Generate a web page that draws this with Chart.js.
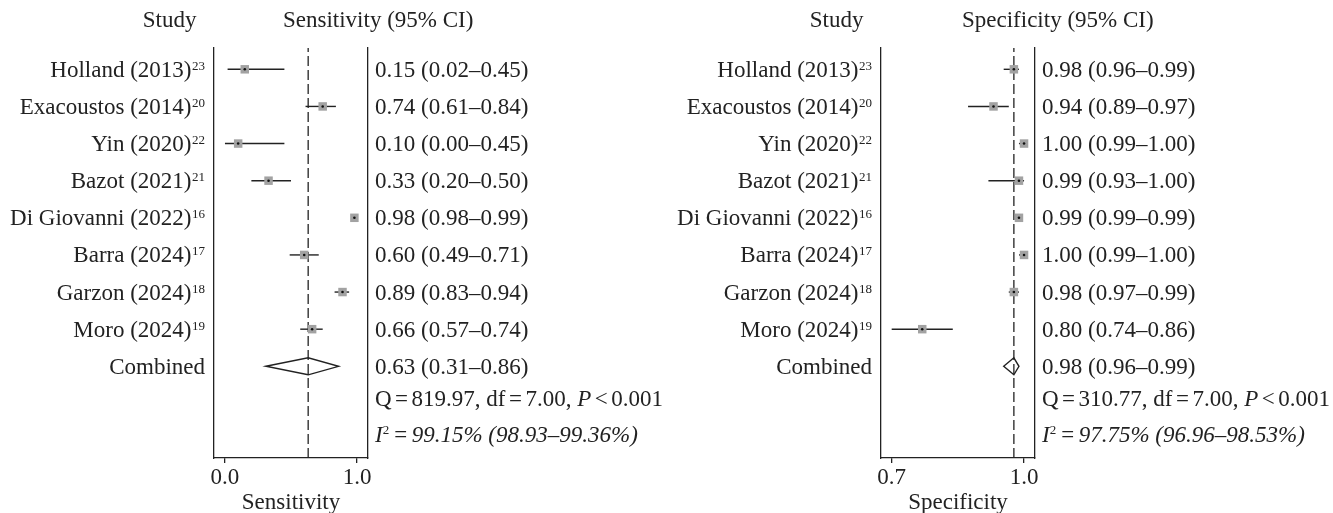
<!DOCTYPE html>
<html>
<head>
<meta charset="utf-8">
<script src="https://cdn.jsdelivr.net/npm/chart.js@4.4.1/dist/chart.umd.min.js"></script>
<style>
  html, body { margin: 0; padding: 0; background: #fff; }
  #wrap { position: relative; width: 1333px; height: 513px; }
  canvas { position: absolute; top: 0; }
  #sensChart { left: 0; }
  #specChart { left: 667px; }
</style>
</head>
<body>
<div id="wrap">
  <canvas id="sensChart" width="666" height="513"></canvas>
  <canvas id="specChart" width="666" height="513"></canvas>
</div>
<script>
const studies = ["Holland (2013)", "Exacoustos (2014)", "Yin (2020)", "Bazot (2021)",
  "Di Giovanni (2022)", "Barra (2024)", "Garzon (2024)", "Moro (2024)"];
const refs = ["23", "20", "22", "21", "16", "17", "18", "19"];

const sensEst  = [0.15, 0.74, 0.10, 0.33, 0.98, 0.60, 0.89, 0.66];
const sensLow  = [0.02, 0.61, 0.00, 0.20, 0.98, 0.49, 0.83, 0.57];
const sensHigh = [0.45, 0.84, 0.45, 0.50, 0.99, 0.71, 0.94, 0.74];
const sensCombined = [0.63, 0.31, 0.86]; // estimate, low, high
const sensHet = ["819.97", "7.00", "0.001"]; // Q, df, P
const sensI2 = ["99.15", "98.93", "99.36"];
const sensTicks = [0, 1];
const sensTickLabels = ["0.0", "1.0"];

const specEst  = [0.98, 0.94, 1.00, 0.99, 0.99, 1.00, 0.98, 0.80];
const specLow  = [0.96, 0.89, 0.99, 0.93, 0.99, 0.99, 0.97, 0.74];
const specHigh = [0.99, 0.97, 1.00, 1.00, 0.99, 1.00, 0.99, 0.86];
const specCombined = [0.98, 0.96, 0.99];
const specHet = ["310.77", "7.00", "0.001"];
const specI2 = ["97.75", "96.96", "98.53"];
const specTicks = [0.74, 1.0];
const specTickLabels = ["0.7", "1.0"];

// layout / style
const FONT = "Liberation Serif";
const INK = "#222";
const Y_MIN = -0.574, Y_MAX = 10.47;
const ROW_Q = 8.86, ROW_I2 = 9.85;
const GAP = 3.5;

Chart.defaults.font.family = FONT;
Chart.defaults.font.size = 23;
Chart.defaults.color = INK;

const fmt = v => v.toFixed(2);

// draws a row of text pieces left to right; {gap} adds a fixed space
function drawRuns(ctx, x, y, runs) {
  ctx.textAlign = "left";
  for (const r of runs) {
    if (r.gap) { x += r.gap; continue; }
    ctx.font = (r.italic ? "italic " : "") + (r.size || 23) + "px " + FONT;
    ctx.fillText(r.text, x, y - (r.rise || 0));
    x += ctx.measureText(r.text).width;
  }
}

function forestText(p) {
  return {
    id: "forestText",
    afterDatasetsDraw(chart) {
      const { ctx } = chart;
      const xs = chart.scales.x, ys = chart.scales.y;
      const yc = ys.getPixelForValue(p.est.length);
      const [est, lo, hi] = p.combined;
      ctx.save();
      ctx.beginPath();
      ctx.moveTo(xs.getPixelForValue(lo), yc);
      ctx.lineTo(xs.getPixelForValue(est), yc - 8.5);
      ctx.lineTo(xs.getPixelForValue(hi), yc);
      ctx.lineTo(xs.getPixelForValue(est), yc + 8.5);
      ctx.closePath();
      ctx.strokeStyle = INK;
      ctx.lineWidth = 1.4;
      ctx.stroke();
      ctx.restore();
    },
    afterDraw(chart) {
      const { ctx, chartArea } = chart;
      const ys = chart.scales.y;
      const labelRight = chartArea.left - 9;
      const valueLeft = chartArea.right + 7;
      ctx.save();
      ctx.fillStyle = INK;
      ctx.textBaseline = "alphabetic";

      ctx.font = "23px " + FONT;
      ctx.textAlign = "right";
      ctx.fillText("Study", 196.5, 27);
      ctx.textAlign = "left";
      ctx.fillText(p.title, p.headerX, 27);

      p.est.forEach((v, i) => {
        const yb = ys.getPixelForValue(i) + 7.5;
        ctx.font = "13px " + FONT;
        const sw = ctx.measureText(refs[i]).width;
        ctx.textAlign = "left";
        ctx.fillText(refs[i], labelRight - sw, yb - 7);
        ctx.font = "23px " + FONT;
        ctx.textAlign = "right";
        ctx.fillText(studies[i], labelRight - sw - 0.5, yb);
        ctx.textAlign = "left";
        ctx.fillText(`${fmt(v)} (${fmt(p.low[i])}\u2013${fmt(p.high[i])})`, valueLeft, yb);
      });

      const n = p.est.length;
      const yComb = ys.getPixelForValue(n) + 7.5;
      ctx.font = "23px " + FONT;
      ctx.textAlign = "right";
      ctx.fillText("Combined", labelRight, yComb);
      const [ce, cl, ch] = p.combined;
      ctx.textAlign = "left";
      ctx.fillText(`${fmt(ce)} (${fmt(cl)}\u2013${fmt(ch)})`, valueLeft, yComb);

      drawRuns(ctx, valueLeft, ys.getPixelForValue(ROW_Q) + 7.5, [
        { text: "Q" }, { gap: GAP }, { text: "=" }, { gap: GAP },
        { text: `${p.het[0]}, df` }, { gap: GAP }, { text: "=" }, { gap: GAP },
        { text: `${p.het[1]}, ` },
        { text: "P", italic: true }, { gap: GAP }, { text: "<" }, { gap: GAP },
        { text: p.het[2] }
      ]);
      drawRuns(ctx, valueLeft, ys.getPixelForValue(ROW_I2) + 7.5, [
        { text: "I", italic: true },
        { text: "2", size: 13, rise: 8 },
        { gap: GAP }, { text: "=", italic: true }, { gap: GAP },
        { text: `${p.i2[0]}% (${p.i2[1]}\u2013${p.i2[2]}%)`, italic: true }
      ]);
      ctx.restore();
    }
  };
}

function makeChart(id, p) {
  const points = p.est.map((v, i) => ({ x: v, y: i }));
  const ciLines = p.est.map((v, i) => ({
    data: [{ x: p.low[i], y: i }, { x: p.high[i], y: i }],
    showLine: true,
    borderColor: INK,
    borderWidth: 1.4,
    pointRadius: 0
  }));
  const yAxis = (pos, width) => ({
    type: "linear",
    position: pos,
    reverse: true,
    min: Y_MIN,
    max: Y_MAX,
    display: true,
    afterFit: s => { s.width = width; },
    ticks: { display: false },
    grid: { display: false },
    border: { display: true, color: INK, width: 1.3 }
  });

  return new Chart(document.getElementById(id), {
    type: "scatter",
    data: {
      datasets: [
        { data: points, pointStyle: "circle", pointRadius: 1.3, pointBackgroundColor: "#111", pointBorderWidth: 0 },
        { data: points, pointStyle: "rect", pointRadius: 6, pointBackgroundColor: "#a2a2a2", pointBorderWidth: 0 },
        ...ciLines,
        {
          data: [{ x: p.combined[0], y: Y_MIN }, { x: p.combined[0], y: Y_MAX }],
          showLine: true,
          borderColor: INK,
          borderWidth: 1.3,
          borderDash: [10, 4],
          borderDashOffset: 6,
          pointRadius: 0
        }
      ]
    },
    options: {
      responsive: false,
      animation: false,
      events: [],
      layout: { padding: { top: 48, left: 0, right: 0, bottom: 0 } },
      plugins: { legend: { display: false }, tooltip: { enabled: false } },
      scales: {
        x: {
          type: "linear",
          min: p.xMin,
          max: p.xMax,
          afterBuildTicks: s => { s.ticks = p.ticks.map(v => ({ value: v })); },
          afterFit: s => { s.height = 55; },
          ticks: { callback: (v, i) => p.tickLabels[i], padding: 1, maxRotation: 0, autoSkip: false },
          grid: { display: true, drawOnChartArea: false, drawTicks: true, tickLength: 5, color: INK, lineWidth: 1.3 },
          border: { display: true, color: INK, width: 1.3 },
          title: { display: true, text: p.axisTitle, padding: { top: 0, bottom: -4 } }
        },
        y: yAxis("left", 214),
        y2: yAxis("right", 298)
      }
    },
    plugins: [forestText(p)]
  });
}

makeChart("sensChart", {
  title: "Sensitivity (95% CI)", headerX: 283, axisTitle: "Sensitivity",
  est: sensEst, low: sensLow, high: sensHigh, combined: sensCombined,
  het: sensHet, i2: sensI2, ticks: sensTicks, tickLabels: sensTickLabels,
  xMin: -0.083, xMax: 1.083
});

makeChart("specChart", {
  title: "Specificity (95% CI)", headerX: 295, axisTitle: "Specificity",
  est: specEst, low: specLow, high: specHigh, combined: specCombined,
  het: specHet, i2: specI2, ticks: specTicks, tickLabels: specTickLabels,
  xMin: 0.719, xMax: 1.0215
});
</script>
</body>
</html>
